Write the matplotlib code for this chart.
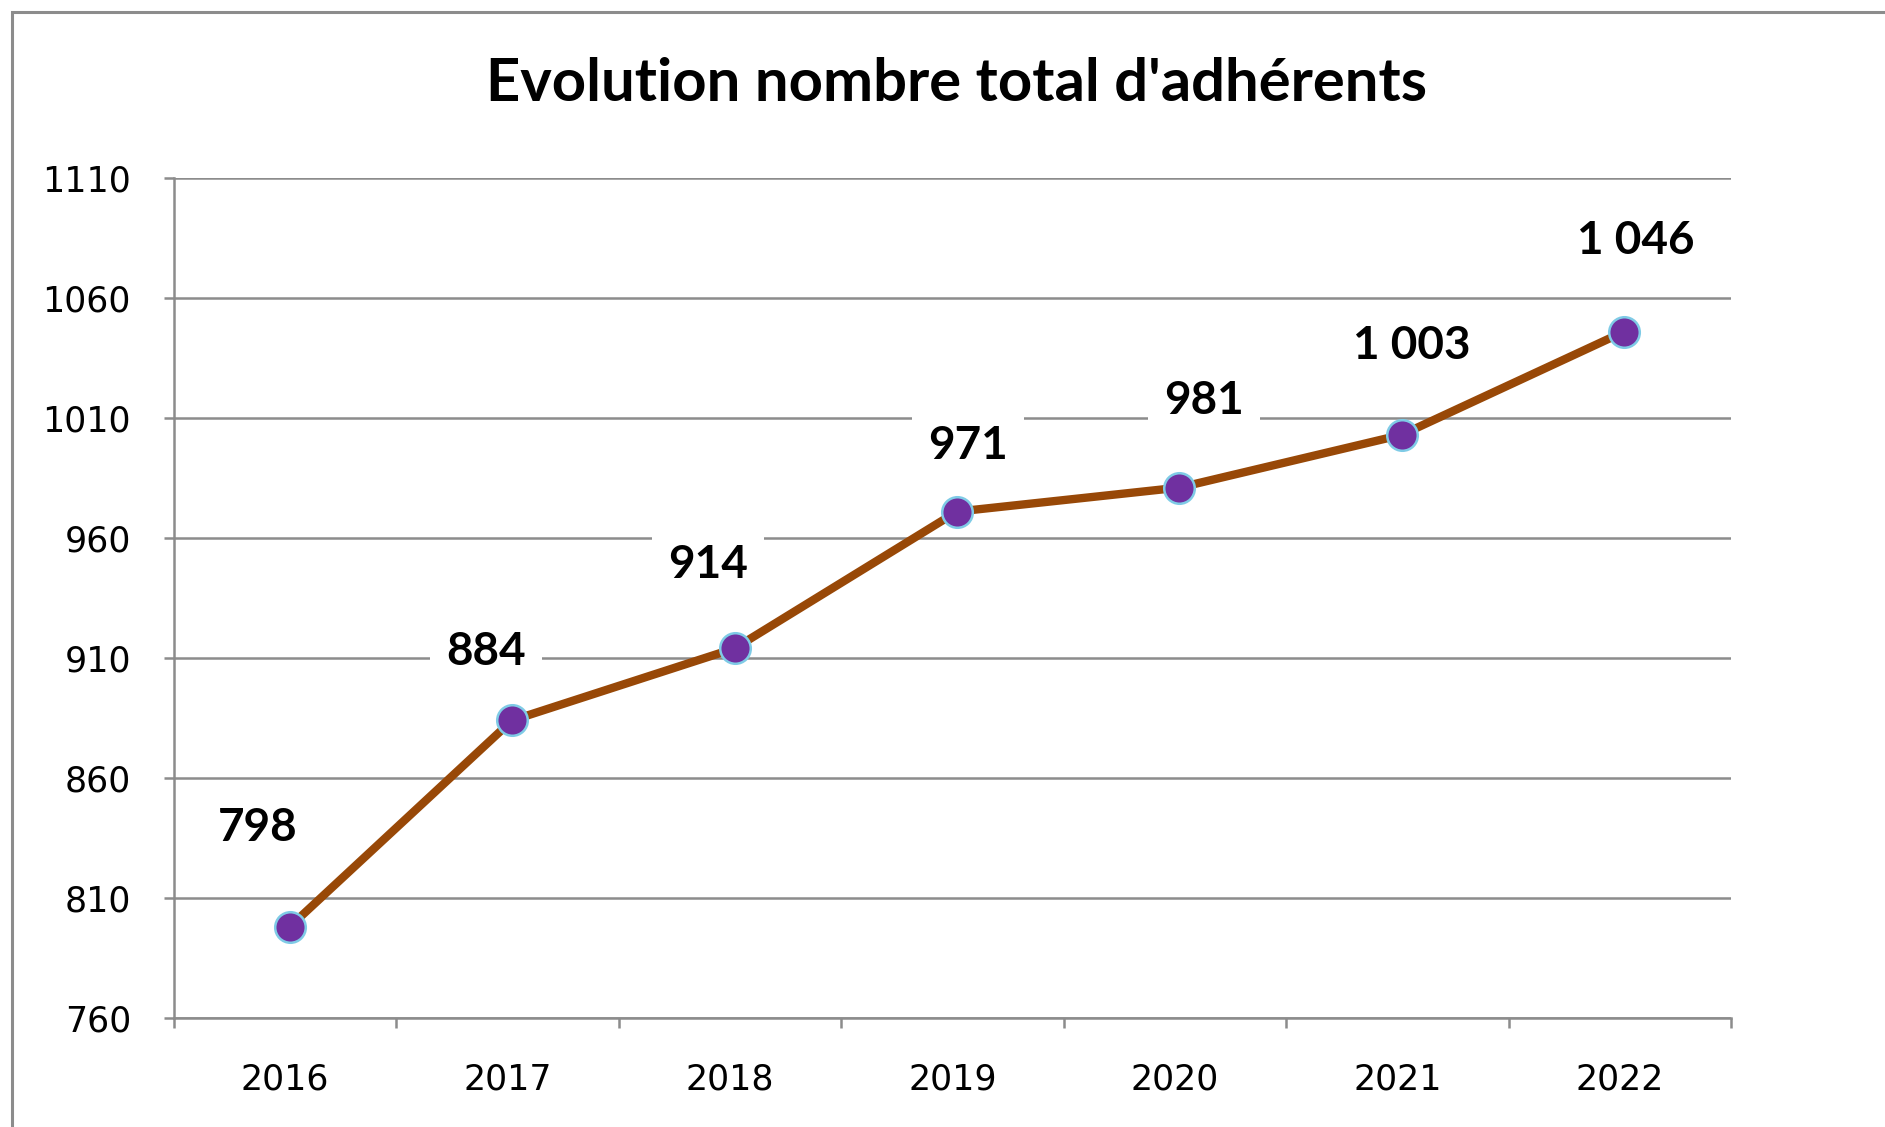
import numpy as np
import matplotlib.pyplot as plt
from matplotlib.patches import Rectangle

# donnees
annees = ['2016', '2017', '2018', '2019', '2020', '2021', '2022']
adherents = [798, 884, 914, 971, 981, 1003, 1046]
etiquettes = ['798', '884', '914', '971', '981', '1 003', '1 046']
y_ticks = [760, 810, 860, 910, 960, 1010, 1060, 1110]

# decalage des etiquettes (en points), placees a la main comme dans Excel
label_dx = [-23, -19, -19, 8, 18, 7, 8]
label_dy = [71, 49, 60, 47, 62, 64, 65]

fig = plt.figure(figsize=(18.85, 11.27), dpi=100)
fig.patches.append(Rectangle((12 / 1885, -0.05), 1.1, 1 - 12 / 1127 + 0.05,
                             transform=fig.transFigure, fill=False,
                             edgecolor='#8c8c8c', linewidth=2.2))

ax = fig.add_axes([174 / 1885, 109 / 1127, 1557 / 1885, 840 / 1127])
x = np.arange(len(annees)) + 0.02

ax.plot(x, adherents, color='#984807', linewidth=6, zorder=3,
        marker='o', markersize=22, markerfacecolor='#7030A0',
        markeredgecolor='#7fcbe6', markeredgewidth=1.8)

for i in range(len(x)):
    ax.annotate(etiquettes[i], (x[i], adherents[i]), xytext=(label_dx[i], label_dy[i]),
                textcoords='offset points', ha='center', va='center',
                fontsize=33, fontweight='bold', family='Lato', color='black',
                bbox=dict(boxstyle='square,pad=0.35', facecolor='white', edgecolor='none'),
                zorder=4)

ax.set_xlim(-0.5, 6.5)
ax.set_ylim(760, 1110)
ax.set_yticks(y_ticks)
ax.set_xticks(np.arange(len(annees)))
ax.set_xticklabels(annees)
ax.set_xticks(np.arange(-0.5, 7, 1), minor=True)

ax.tick_params(axis='x', which='major', length=0, pad=32, labelsize=25)
ax.tick_params(axis='x', which='minor', length=7, width=1.8, color='#8c8c8c', direction='out')
ax.tick_params(axis='y', length=7, width=1.8, color='#8c8c8c', pad=24, labelsize=25)

ax.grid(axis='y', color='#8c8c8c', linewidth=1.8)
ax.set_axisbelow(True)
for s in ['top', 'right']:
    ax.spines[s].set_visible(False)
for s in ['left', 'bottom']:
    ax.spines[s].set_color('#8c8c8c')
    ax.spines[s].set_linewidth(1.8)
ax.spines['left'].set_zorder(1)

fig.text(956 / 1885, 1 - 84 / 1127, "Evolution nombre total d'adhérents", ha='center', va='center',
         fontsize=43, fontweight='bold', family='Lato')

plt.savefig('out.png', dpi=100)
